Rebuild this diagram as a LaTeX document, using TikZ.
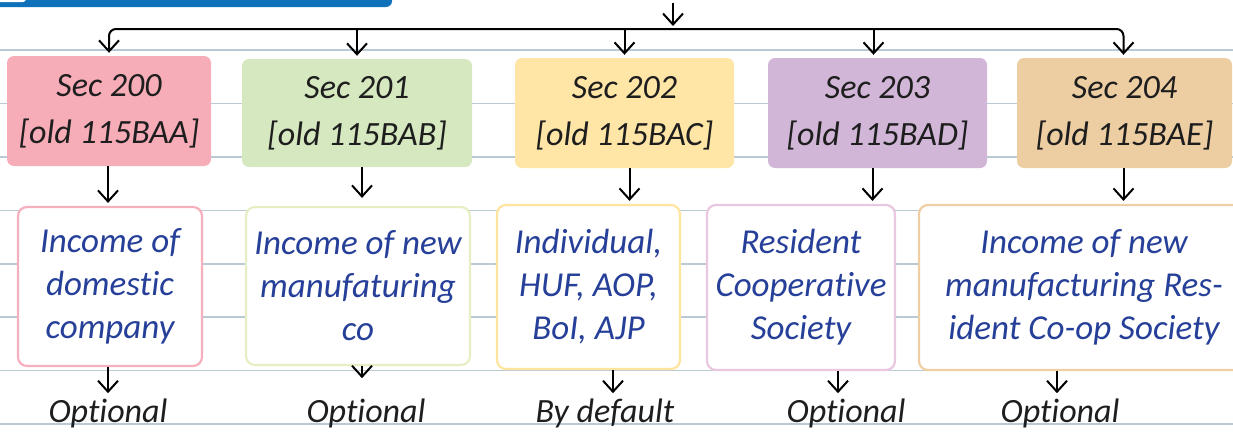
\documentclass[tikz,border=0pt]{standalone}
\usepackage{fontspec}
\setmainfont{Carlito}[Ligatures=NoCommon]
\usetikzlibrary{arrows.meta}
\definecolor{barblue}{HTML}{0F71B9}
\definecolor{rulec}{HTML}{BACAD5}
\definecolor{txtc}{HTML}{1E1E1E}
\definecolor{bluec}{HTML}{263F98}
\definecolor{pinkf}{HTML}{F7ADB8}
\definecolor{greenf}{HTML}{D5E8BF}
\definecolor{yellowf}{HTML}{FFE6A6}
\definecolor{purplef}{HTML}{D1B6D7}
\definecolor{orangef}{HTML}{EDCDA2}
\definecolor{pinkb}{HTML}{F6B0BD}
\definecolor{greenb}{HTML}{E6EEC3}
\definecolor{yellowb}{HTML}{FFE49E}
\definecolor{purpleb}{HTML}{E9C7DF}
\definecolor{orangeb}{HTML}{EDCFA3}
\begin{document}
\begin{tikzpicture}[x=1pt,y=-1pt,
  rule/.style={draw=rulec, line width=1.3pt},
  conn/.style={line width=2pt, draw=black, -{Straight Barb[length=11pt,width=20pt]}},
  topbox/.style={rounded corners=7pt, inner sep=0pt, align=center, text=txtc,
    font=\itshape\fontsize{34}{47}\selectfont},
  botbox/.style={rounded corners=9pt, line width=2.2pt, fill=white, inner sep=0pt,
    align=center, text=bluec, font=\itshape\fontsize{35}{43}\selectfont},
  lab/.style={inner sep=0pt, anchor=base, text=txtc, font=\itshape\fontsize{34}{40}\selectfont}]
\useasboundingbox (0,0) rectangle (1233,434);
% notebook rules
\foreach \y in {50,103.5,157,210.5,264,317,370.5,424}
  \draw[rule] (0,\y) -- (1233,\y);
% top banner
\fill[barblue, rounded corners=6pt] (-10,-10) rectangle (392,7);
\fill[white, rounded corners=3pt] (-10,-10) rectangle (26,2);
% top boxes
\node[topbox, fill=pinkf, minimum width=204pt, minimum height=110pt] (t1) at (109,111) {Sec 200\\{}[old 115BAA]};
\node[topbox, fill=greenf, minimum width=230pt, minimum height=108pt] (t2) at (357,113) {Sec 201\\{}[old 115BAB]};
\node[topbox, fill=yellowf, minimum width=219pt, minimum height=110pt] (t3) at (624.5,113) {Sec 202\\{}[old 115BAC]};
\node[topbox, fill=purplef, minimum width=219pt, minimum height=110pt] (t4) at (877.5,113) {Sec 203\\{}[old 115BAD]};
\node[topbox, fill=orangef, minimum width=215pt, minimum height=110pt] (t5) at (1124.5,113) {Sec 204\\{}[old 115BAE]};
% bottom boxes
\node[botbox, draw=pinkb, minimum width=184pt, minimum height=159pt] (b1) at (110,286.5) {Income of\\domestic\\company};
\node[botbox, draw=greenb, minimum width=224pt, minimum height=158pt] (b2) at (358,286) {Income of new\\manufaturing\\co};
\node[botbox, draw=yellowb, minimum width=183pt, minimum height=164pt] (b3) at (588.5,287) {Individual,\\HUF, AOP,\\BoI, AJP};
\node[botbox, draw=purpleb, minimum width=188pt, minimum height=165pt] (b4) at (801,287.5) {Resident\\Cooperative\\Society};
\node[botbox, draw=orangeb, minimum width=330pt, minimum height=165pt] (b5) at (1084,287.5) {Income of new\\manufacturing Res-\\ident Co-op Society};
% labels
\node[lab] (l1) at (108,422) {Optional};
\node[lab] (l2) at (366,422) {Optional};
\node[lab] (l3) at (605,422) {By default};
\node[lab] (l4) at (846,422) {Optional};
\node[lab] (l5) at (1060,422) {Optional};
% incoming connector and bus
\coordinate (src) at (673,3);
\coordinate (bus) at (673,29);
\draw[conn, shorten >=3pt] (src) -- (bus);
\draw[conn, rounded corners=7pt, shorten >=3pt] (bus) -| (t1.north);
\draw[conn, shorten >=3pt] (t2.north |- bus) -- (t2.north);
\draw[conn, shorten >=3pt] (t3.north |- bus) -- (t3.north);
\draw[conn, shorten >=3pt] ([xshift=-4pt]t4.north |- bus) -- ([xshift=-4pt]t4.north);
\draw[conn, rounded corners=7pt, shorten >=3pt] (bus) -| ([xshift=-1pt]t5.north);
% top to bottom
\draw[conn, shorten >=3pt] ([xshift=-1pt]t1.south) -- ([xshift=-1pt]t1.south |- b1.north);
\draw[conn, shorten >=8pt] ([xshift=5pt]t2.south) -- ([xshift=5pt]t2.south |- b2.north);
\draw[conn, shorten >=3pt] ([xshift=5pt]t3.south) -- ([xshift=5pt]t3.south |- b3.north);
\draw[conn, shorten >=3pt] ([xshift=-5pt]t4.south) -- ([xshift=-5pt]t4.south |- b4.north);
\draw[conn, shorten >=3pt] ([xshift=-1pt]t5.south) -- ([xshift=-1pt]t5.south |- b5.north);
% bottom to labels
\draw[conn] (l1.north |- b1.south) -- ([yshift=5pt]l1.north);
\draw[conn] ([xshift=-4pt]l2.north |- b2.south) -- ([xshift=-4pt,yshift=20pt]l2.north);
\draw[conn] ([xshift=8pt]l3.north |- b3.south) -- ([xshift=8pt,yshift=5pt]l3.north);
\draw[conn] ([xshift=-8pt]l4.north |- b4.south) -- ([xshift=-8pt,yshift=5pt]l4.north);
\draw[conn] ([xshift=-3pt]l5.north |- b5.south) -- ([xshift=-3pt,yshift=5pt]l5.north);
\end{tikzpicture}
\end{document}
